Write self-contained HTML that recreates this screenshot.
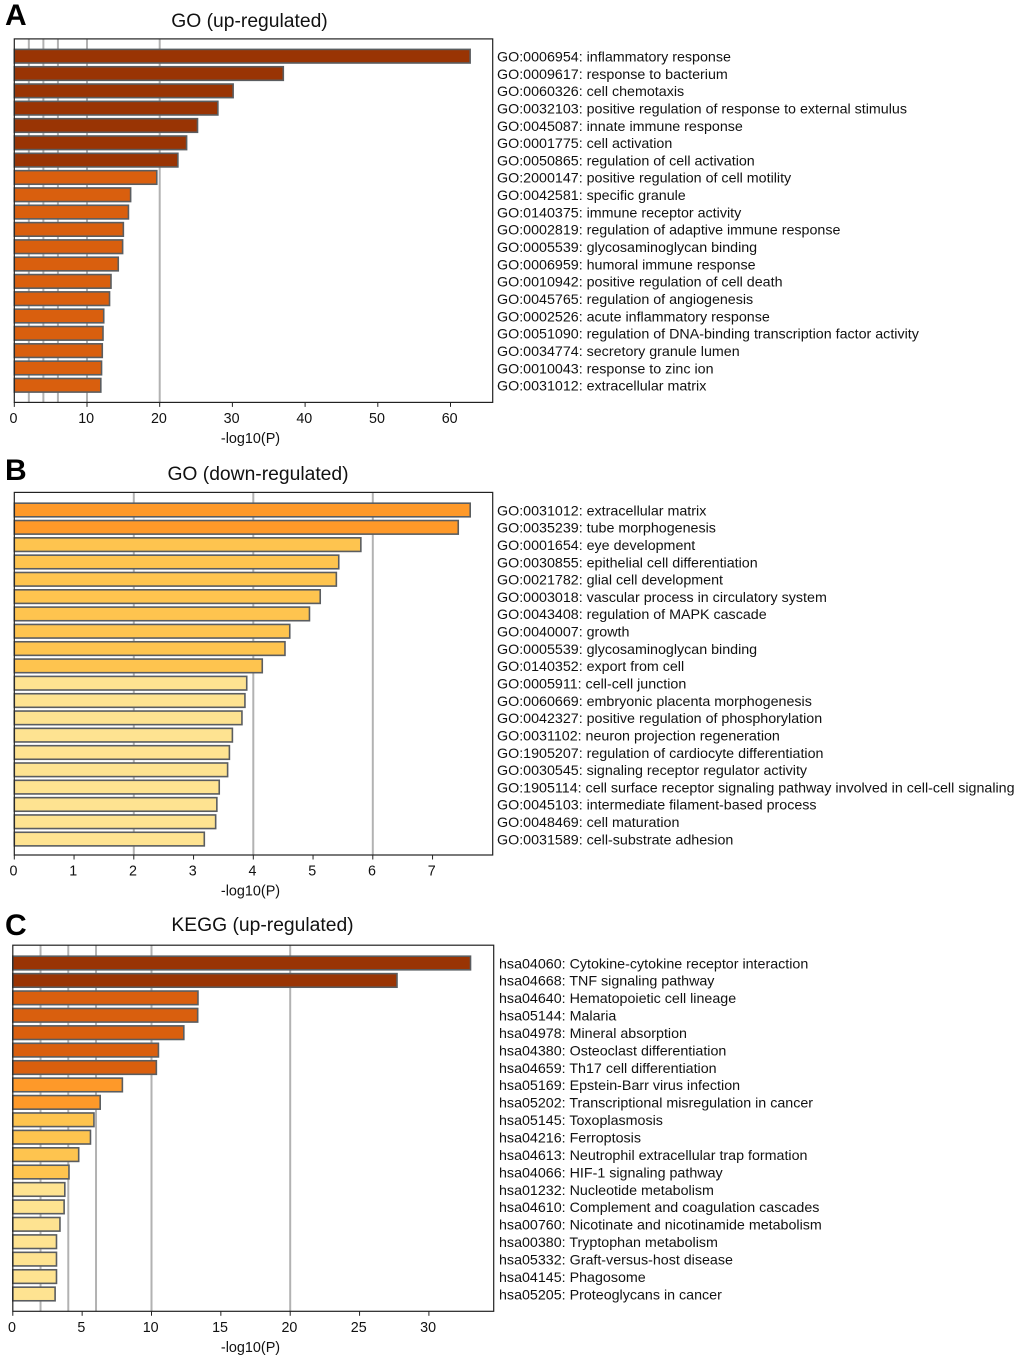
<!DOCTYPE html>
<html lang="en">
<head>
<meta charset="utf-8">
<title>Enrichment bar charts</title>
<style>
html,body{margin:0;padding:0;background:#fff;width:1020px;height:1360px;overflow:hidden}
svg{display:block}
text{font-family:"Liberation Sans",Arial,sans-serif;fill:#111}
</style>
</head>
<body>
<svg id="figure" width="1020" height="1360" viewBox="0 0 1020 1360" xmlns="http://www.w3.org/2000/svg"></svg>
<script>
const goUpTerms = ["GO:0006954: inflammatory response","GO:0009617: response to bacterium","GO:0060326: cell chemotaxis","GO:0032103: positive regulation of response to external stimulus","GO:0045087: innate immune response","GO:0001775: cell activation","GO:0050865: regulation of cell activation","GO:2000147: positive regulation of cell motility","GO:0042581: specific granule","GO:0140375: immune receptor activity","GO:0002819: regulation of adaptive immune response","GO:0005539: glycosaminoglycan binding","GO:0006959: humoral immune response","GO:0010942: positive regulation of cell death","GO:0045765: regulation of angiogenesis","GO:0002526: acute inflammatory response","GO:0051090: regulation of DNA-binding transcription factor activity","GO:0034774: secretory granule lumen","GO:0010043: response to zinc ion","GO:0031012: extracellular matrix"];
const goUpValues = [62.7,37.0,30.1,28.0,25.2,23.7,22.5,19.6,16.0,15.7,15.0,14.9,14.3,13.3,13.1,12.3,12.2,12.1,12.0,11.9];
const goUpTicks = [0,10,20,30,40,50,60];
const goUpGrid = [2,4,6,10,20];

const goDownTerms = ["GO:0031012: extracellular matrix","GO:0035239: tube morphogenesis","GO:0001654: eye development","GO:0030855: epithelial cell differentiation","GO:0021782: glial cell development","GO:0003018: vascular process in circulatory system","GO:0043408: regulation of MAPK cascade","GO:0040007: growth","GO:0005539: glycosaminoglycan binding","GO:0140352: export from cell","GO:0005911: cell-cell junction","GO:0060669: embryonic placenta morphogenesis","GO:0042327: positive regulation of phosphorylation","GO:0031102: neuron projection regeneration","GO:1905207: regulation of cardiocyte differentiation","GO:0030545: signaling receptor regulator activity","GO:1905114: cell surface receptor signaling pathway involved in cell-cell signaling","GO:0045103: intermediate filament-based process","GO:0048469: cell maturation","GO:0031589: cell-substrate adhesion"];
const goDownValues = [7.63,7.43,5.80,5.43,5.39,5.12,4.94,4.61,4.53,4.15,3.89,3.86,3.81,3.65,3.60,3.57,3.43,3.39,3.37,3.18];
const goDownTicks = [0,1,2,3,4,5,6,7];
const goDownGrid = [2,4,6];

const keggTerms = ["hsa04060: Cytokine-cytokine receptor interaction","hsa04668: TNF signaling pathway","hsa04640: Hematopoietic cell lineage","hsa05144: Malaria","hsa04978: Mineral absorption","hsa04380: Osteoclast differentiation","hsa04659: Th17 cell differentiation","hsa05169: Epstein-Barr virus infection","hsa05202: Transcriptional misregulation in cancer","hsa05145: Toxoplasmosis","hsa04216: Ferroptosis","hsa04613: Neutrophil extracellular trap formation","hsa04066: HIF-1 signaling pathway","hsa01232: Nucleotide metabolism","hsa04610: Complement and coagulation cascades","hsa00760: Nicotinate and nicotinamide metabolism","hsa00380: Tryptophan metabolism","hsa05332: Graft-versus-host disease","hsa04145: Phagosome","hsa05205: Proteoglycans in cancer"];
const keggValues = [33.0,27.7,13.35,13.33,12.33,10.5,10.35,7.9,6.3,5.85,5.6,4.75,4.05,3.75,3.7,3.4,3.15,3.15,3.15,3.05];
const keggTicks = [0,5,10,15,20,25,30];
const keggGrid = [2,4,6,10,20];

const svg = document.getElementById('figure');
const NS = 'http://www.w3.org/2000/svg';

function shape(tag, props, parent) {
  const el = document.createElementNS(NS, tag);
  for (const k in props) el.setAttribute(k, props[k]);
  parent.appendChild(el);
  return el;
}

function colorFor(v) {
  if (v >= 20) return '#993404';
  if (v >= 10) return '#d95f0e';
  if (v >= 6) return '#fe9929';
  if (v >= 4) return '#fec44f';
  return '#fee391';
}

function drawPanel(cfg) {
  const g = shape('g', {}, svg);
  
  

  const xScale = v => cfg.x0 + v * cfg.pxPerUnit;
  const yScale = i => cfg.y0 + i * cfg.rowStep;

  const letter = shape('text', {x: cfg.letterX, y: cfg.letterY, 'font-size': 30, 'font-weight': 'bold', style: 'fill:#000'}, g);
  letter.textContent = cfg.letter;
  
  

  const title = shape('text', {x: cfg.titleX, y: cfg.titleY, 'font-size': 19.3, 'text-anchor': 'middle'}, g);
  title.textContent = cfg.title;
  
  

  cfg.grid.forEach(v => {
    const line = shape('line', {x1: xScale(v), x2: xScale(v), y1: cfg.top, y2: cfg.bottom, stroke: '#b2b2b2', 'stroke-width': 2}, g);
    
    
  });

  cfg.values.forEach((v, i) => {
    const bar = shape('rect', {x: cfg.x0, y: yScale(i) - 6.8, width: xScale(v) - cfg.x0, height: 13.6, fill: colorFor(v), stroke: '#5a5d60', 'stroke-width': 1.6}, g);
    
    
  });

  const frame = shape('rect', {x: cfg.left, y: cfg.top, width: cfg.right - cfg.left, height: cfg.bottom - cfg.top, fill: 'none', stroke: '#222', 'stroke-width': 1.2}, g);
  
  

  cfg.ticks.forEach(v => {
    const tick = shape('line', {x1: xScale(v), x2: xScale(v), y1: cfg.bottom, y2: cfg.bottom + 4.5, stroke: '#222', 'stroke-width': 1}, g);
    
    
    const lab = shape('text', {x: xScale(v) - 0.8, y: cfg.bottom + 20.5, 'font-size': 14.3, 'text-anchor': 'middle'}, g);
    lab.textContent = String(v);
    
    
  });

  const axisTitle = shape('text', {x: 250.5, y: cfg.bottom + 40.5, 'font-size': 14.4, 'text-anchor': 'middle'}, g);
  axisTitle.textContent = '-log10(P)';
  
  

  cfg.terms.forEach((t, i) => {
    const lab = shape('text', {x: cfg.labelX, y: yScale(i) + 5.3, 'font-size': 14.28}, g);
    lab.textContent = t;
    
    
  });
}

drawPanel({key:'go-up', letter:'A', title:'GO (up-regulated)', letterX:5, letterY:25, titleX:249.5, titleY:27,
  left:14.3, right:492.7, top:38.9, bottom:402.4, x0:14.3, pxPerUnit:7.27, y0:56.2, rowStep:17.32, labelX:497,
  terms:goUpTerms, values:goUpValues, ticks:goUpTicks, grid:goUpGrid});

drawPanel({key:'go-down', letter:'B', title:'GO (down-regulated)', letterX:5, letterY:480, titleX:258, titleY:480,
  left:14.3, right:492.7, top:492.4, bottom:855, x0:14.3, pxPerUnit:59.75, y0:510, rowStep:17.32, labelX:497,
  terms:goDownTerms, values:goDownValues, ticks:goDownTicks, grid:goDownGrid});

drawPanel({key:'kegg-up', letter:'C', title:'KEGG (up-regulated)', letterX:5, letterY:935, titleX:262.5, titleY:931,
  left:12.8, right:493.7, top:945.2, bottom:1311.3, x0:12.8, pxPerUnit:13.87, y0:963, rowStep:17.42, labelX:499,
  terms:keggTerms, values:keggValues, ticks:keggTicks, grid:keggGrid});
</script>
</body>
</html>
